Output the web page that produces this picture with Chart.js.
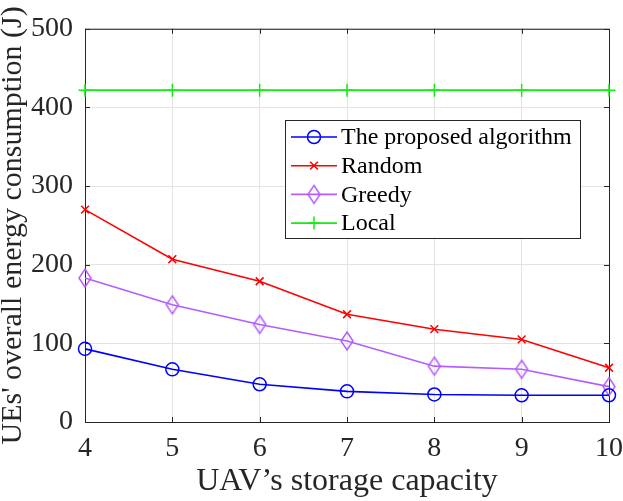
<!DOCTYPE html>
<html>
<head>
<meta charset="utf-8">
<script src="https://cdn.jsdelivr.net/npm/chart.js"></script>
<style>
    html, body { margin: 0; padding: 0; background: #fff; }
    #wrap { width: 623px; height: 501px; }
</style>
</head>
<body>
<div id="wrap"><canvas id="myChart" width="623" height="501"></canvas></div>
<script>
const capacity = [4, 5, 6, 7, 8, 9, 10];
const proposed = [93, 67, 48, 39, 35, 34, 34];
const random = [270, 207, 179, 137, 118, 105, 69];
const greedy = [183, 149, 124, 103, 71, 67, 45];
const local = [422, 422, 422, 422, 422, 422, 422];
const yTicks = [0, 100, 200, 300, 400, 500];

const serif = '"Liberation Serif", "Times New Roman", serif';
const ink = '#262626';

function points(values) {
    return values.map((v, i) => ({x: capacity[i], y: v}));
}

// tall matlab-style diamond
function diamond(color) {
    const c = document.createElement('canvas');
    c.width = 16; c.height = 22;
    const g = c.getContext('2d');
    g.strokeStyle = color;
    g.lineWidth = 1.5;
    g.beginPath();
    g.moveTo(8, 2); g.lineTo(14, 11); g.lineTo(8, 20); g.lineTo(2, 11);
    g.closePath();
    g.stroke();
    return c;
}

// box round the axes + inward tick marks
const boxPlugin = {
    id: 'box',
    beforeDatasetsDraw(chart) {
        const {ctx, chartArea: a, scales} = chart;
        ctx.save();
        ctx.strokeStyle = ink;
        ctx.lineWidth = 1;
        ctx.strokeRect(a.left + 0.5, a.top + 0.5, a.right - a.left, a.bottom - a.top);
        ctx.beginPath();
        scales.x.ticks.forEach(t => {
            const px = Math.round(scales.x.getPixelForValue(t.value)) + 0.5;
            ctx.moveTo(px, a.bottom); ctx.lineTo(px, a.bottom - 5);
            ctx.moveTo(px, a.top); ctx.lineTo(px, a.top + 5);
        });
        scales.y.ticks.forEach(t => {
            const py = Math.round(scales.y.getPixelForValue(t.value)) + 0.5;
            ctx.moveTo(a.left, py); ctx.lineTo(a.left + 5, py);
            ctx.moveTo(a.right, py); ctx.lineTo(a.right - 5, py);
        });
        ctx.stroke();
        ctx.restore();
    }
};

// legend box inside the plot, like matlab 'Location' manual
const legendPlugin = {
    id: 'boxLegend',
    afterDraw(chart) {
        const ctx = chart.ctx;
        const x0 = 285, y0 = 120, w = 295, h = 118;
        ctx.save();
        ctx.fillStyle = '#fff';
        ctx.fillRect(x0, y0, w, h);
        ctx.strokeStyle = ink;
        ctx.lineWidth = 1;
        ctx.strokeRect(x0 + 0.5, y0 + 0.5, w, h);
        ctx.font = '24px ' + serif;
        ctx.textBaseline = 'middle';
        chart.data.datasets.forEach((ds, i) => {
            const y = 137 + i * 28.7;
            ctx.strokeStyle = ds.borderColor;
            ctx.lineWidth = ds.borderWidth;
            ctx.beginPath();
            ctx.moveTo(291, y); ctx.lineTo(337, y);
            ctx.stroke();
            if (typeof ds.pointStyle === 'object') {
                ctx.drawImage(ds.pointStyle, 314 - ds.pointStyle.width / 2, y - ds.pointStyle.height / 2);
            } else if (Chart.helpers && Chart.helpers.drawPoint) {
                ctx.fillStyle = 'rgba(0,0,0,0)';
                ctx.lineWidth = ds.pointBorderWidth;
                Chart.helpers.drawPoint(ctx, {pointStyle: ds.pointStyle, radius: ds.pointRadius, rotation: 0, borderWidth: ds.pointBorderWidth}, 314, y);
            }
            ctx.fillStyle = '#000';
            ctx.fillText(ds.label, 341, y + 1);
        });
        ctx.restore();
    }
};

const ctx = document.getElementById('myChart').getContext('2d');
const myChart = new Chart(ctx, {
    type: 'line',
    data: {
        datasets: [
            {
                label: 'The proposed algorithm',
                data: points(proposed),
                borderColor: '#0000ff',
                borderWidth: 1.6,
                pointStyle: 'circle',
                pointRadius: 6.5,
                pointBorderWidth: 1.5,
                pointBackgroundColor: 'rgba(0,0,0,0)',
                pointBorderColor: '#0000ff'
            },
            {
                label: 'Random',
                data: points(random),
                borderColor: '#ff0000',
                borderWidth: 1.6,
                pointStyle: 'crossRot',
                pointRadius: 5.5,
                pointBorderWidth: 1.5,
                pointBorderColor: '#ff0000'
            },
            {
                label: 'Greedy',
                data: points(greedy),
                borderColor: '#b45cff',
                borderWidth: 1.6,
                pointStyle: diamond('#b45cff'),
                pointRadius: 8,
                pointBorderWidth: 1.5,
                pointBorderColor: '#b45cff'
            },
            {
                label: 'Local',
                data: points(local),
                borderColor: '#11ee11',
                borderWidth: 1.6,
                pointStyle: 'cross',
                pointRadius: 6.5,
                pointBorderWidth: 1.5,
                pointBorderColor: '#11ee11'
            }
        ]
    },
    options: {
        responsive: false,
        animation: false,
        devicePixelRatio: 1,
        layout: {
            padding: {left: 0, right: 14, top: 27, bottom: 0}
        },
        datasets: {
            line: {clip: false, tension: 0, fill: false}
        },
        plugins: {
            legend: {display: false},
            tooltip: {enabled: false}
        },
        scales: {
            x: {
                type: 'linear',
                min: 4,
                max: 10,
                afterBuildTicks: (s) => { s.ticks = capacity.map(v => ({value: v})); },
                afterFit: (s) => { s.height = 79; s.paddingLeft = 0; s.paddingRight = 0; },
                ticks: {
                    color: ink,
                    padding: 10,
                    maxRotation: 0,
                    font: {family: serif, size: 28}
                },
                grid: {color: '#e3e3e3', drawTicks: false},
                border: {display: false},
                title: {
                    display: true,
                    text: 'UAV’s storage capacity',
                    color: ink,
                    padding: {top: 0, bottom: 0},
                    font: {family: serif, size: 32, lineHeight: 1.2}
                }
            },
            y: {
                min: 0,
                max: 500,
                afterBuildTicks: (s) => { s.ticks = yTicks.map(v => ({value: v})); },
                afterFit: (s) => { s.width = 85; },
                ticks: {
                    color: ink,
                    padding: 12,
                    font: {family: serif, size: 28}
                },
                grid: {color: '#e3e3e3', drawTicks: false},
                border: {display: false},
                title: {
                    display: true,
                    text: "UEs' overall energy consumption (J)",
                    color: ink,
                    padding: {top: 0, bottom: 0},
                    font: {family: serif, size: 30, lineHeight: 0.9}
                }
            }
        }
    },
    plugins: [boxPlugin, legendPlugin]
});
</script>
</body>
</html>
